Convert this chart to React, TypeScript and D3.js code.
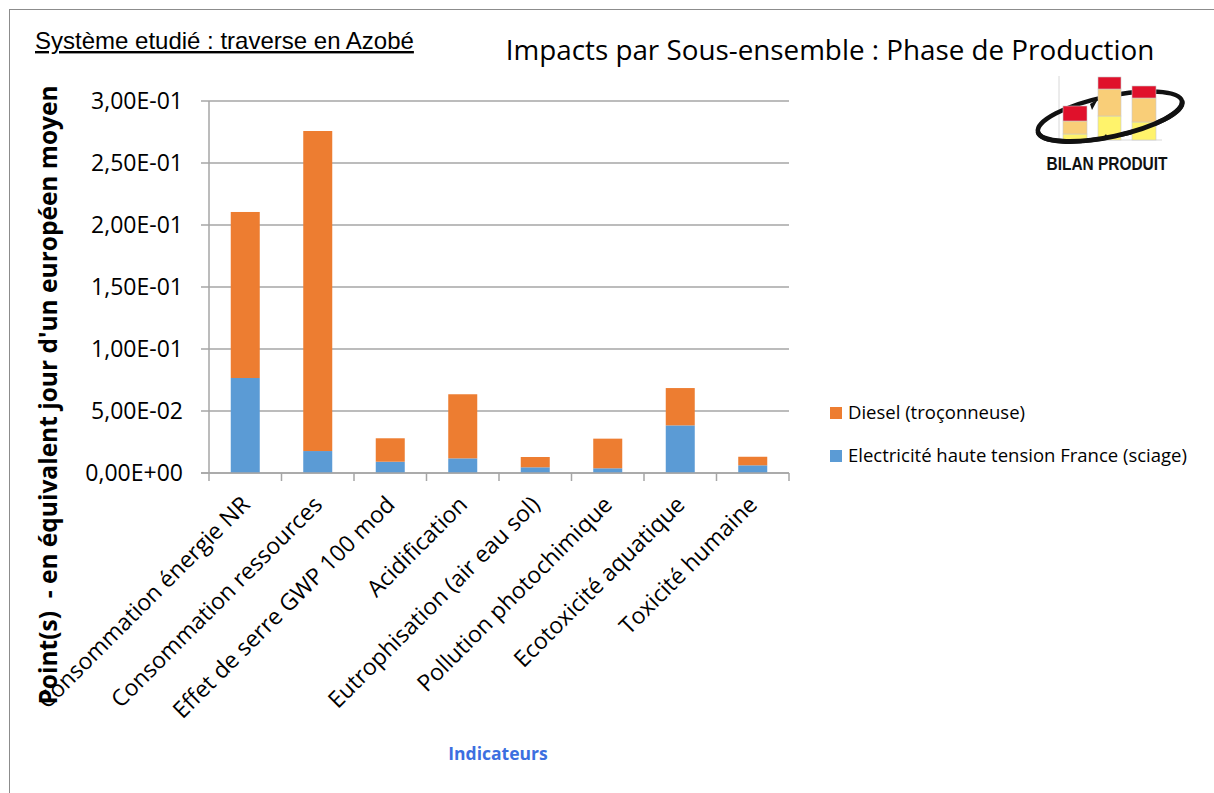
import React from "react";
import * as d3 from "d3";

const categories = [
  "Consommation énergie NR",
  "Consommation ressources",
  "Effet de serre GWP 100 mod",
  "Acidification",
  "Eutrophisation (air eau sol)",
  "Pollution photochimique",
  "Ecotoxicité aquatique",
  "Toxicité humaine",
];
const electricite = [0.0766, 0.0177, 0.0091, 0.0118, 0.0046, 0.0038, 0.0384, 0.0062];
const diesel = [0.1339, 0.2581, 0.0189, 0.0517, 0.0083, 0.0239, 0.0301, 0.0069];
const yTicks = [0, 0.05, 0.1, 0.15, 0.2, 0.25, 0.3];
const seriesKeys = ["electricite", "diesel"];
const seriesNames = ["Electricité haute tension France (sciage)", "Diesel (troçonneuse)"];
const seriesColors = ["#5B9BD5", "#ED7D31"];

const W = 1214;
const H = 793;
const plot = { left: 209, right: 789, top: 101, bottom: 473 };
const FONT = "'Open Sans', 'Noto Sans', sans-serif";

// Excel-style scientific notation: 3,00E-01
function sci(v: number): string {
  if (v === 0) return "0,00E+00";
  const exp = Math.floor(Math.log10(Math.abs(v)) + 1e-9);
  const mant = v / Math.pow(10, exp);
  const sign = exp < 0 ? "-" : "+";
  return `${mant.toFixed(2).replace(".", ",")}E${sign}${String(Math.abs(exp)).padStart(2, "0")}`;
}

function Logo() {
  const base = 140;
  const bars = [
    { x: 1063, w: 24, segs: [140, 134, 121, 106] },
    { x: 1098, w: 23, segs: [140, 116, 89, 77] },
    { x: 1132, w: 24, segs: [140, 122, 98, 86] },
  ];
  const fills = ["#FFF36B", "#F9CE78", "#E0112B"];
  const ell = "M 1038 132 A 73 20 -12 1 1 1182 101 A 73 20 -12 1 1 1038 132 Z";
  return (
    <g>
      <line x1={1059} y1={76} x2={1059} y2={base} stroke="#d8d8d8" />
      <line x1={1059} y1={base} x2={1162} y2={base} stroke="#d8d8d8" />
      <path d={ell} fill="none" stroke="#111" strokeWidth={4.5} />
      {bars.map((b, i) => (
        <g key={i}>
          {fills.map((f, j) => (
            <rect
              key={j}
              x={b.x}
              y={b.segs[j + 1]}
              width={b.w}
              height={b.segs[j] - b.segs[j + 1]}
              fill={f}
              stroke="#c9c9c9"
              strokeWidth={0.6}
            />
          ))}
        </g>
      ))}
      <path d="M 1038 132 A 73 20 -12 0 0 1182 101" fill="none" stroke="#111" strokeWidth={5} />
      <polygon points="1090,104 1098,99 1092,110" fill="#111" />
      <polygon points="1108,138 1100,141 1106,134" fill="#111" />
      <text
        x={1107}
        y={170}
        textAnchor="middle"
        fontFamily="'Liberation Sans', Arial, sans-serif"
        fontWeight="bold"
        fontSize={18}
        textLength={121}
        lengthAdjust="spacingAndGlyphs"
        fill="#111"
      >
        BILAN PRODUIT
      </text>
    </g>
  );
}

export default function App() {
  const rows = categories.map((c, i) => ({ cat: c, electricite: electricite[i], diesel: diesel[i] }));
  const stacked = d3.stack<any>().keys(seriesKeys)(rows);

  const x = d3
    .scaleBand<string>()
    .domain(categories)
    .range([plot.left, plot.right])
    .paddingInner(0.6)
    .paddingOuter(0.3);
  const y = d3.scaleLinear().domain([0, 0.3]).range([plot.bottom, plot.top]);
  const step = x.step();
  const boundaries = d3.range(categories.length + 1).map((i) => plot.left + i * step);

  return (
    <svg
      width={W}
      height={H}
      style={{ position: "absolute", left: 0, top: 0, background: "#fff" }}
    >
      <rect x={0} y={0} width={W} height={H} fill="#fff" />
      <rect x={9.5} y={9.5} width={W + 10} height={H + 10} fill="none" stroke="#8c8c8c" />

      {/* subtitle */}
      <text x={35} y={49} fontFamily="'Liberation Sans', Arial, sans-serif" fontSize={24} fill="#000" textDecoration="underline">
        Système etudié : traverse en Azobé
      </text>

      {/* title */}
      <text x={830} y={60} textAnchor="middle" fontFamily={FONT} fontSize={27.8} fill="#000">
        Impacts par Sous-ensemble : Phase de Production
      </text>

      <Logo />

      {/* gridlines and y ticks */}
      {yTicks.map((t) => (
        <g key={t}>
          <line x1={plot.left - 8} x2={plot.right} y1={y(t)} y2={y(t)} stroke="#A6A6A6" strokeWidth={1.5} />
          <text
            x={183}
            y={y(t)}
            dy="0.35em"
            textAnchor="end"
            fontFamily={FONT}
            fontSize={23}
            fill="#000"
          >
            {sci(t)}
          </text>
        </g>
      ))}

      {/* bars */}
      {stacked.map((s, si) => (
        <g key={s.key} fill={seriesColors[si]}>
          {s.map((d, i) => (
            <rect
              key={i}
              x={x(categories[i])}
              y={y(d[1])}
              width={x.bandwidth()}
              height={y(d[0]) - y(d[1])}
            />
          ))}
        </g>
      ))}

      {/* axes */}
      <line x1={plot.left} x2={plot.left} y1={plot.top} y2={plot.bottom} stroke="#A6A6A6" strokeWidth={1.5} />
      <line x1={plot.left - 8} x2={plot.right} y1={plot.bottom} y2={plot.bottom} stroke="#A6A6A6" strokeWidth={1.5} />
      {boundaries.map((bx, i) => (
        <line key={i} x1={bx} x2={bx} y1={plot.bottom} y2={plot.bottom + 8} stroke="#A6A6A6" strokeWidth={1.5} />
      ))}

      {/* category labels */}
      {categories.map((c) => {
        const cx = (x(c) as number) + x.bandwidth() / 2;
        return (
          <text
            key={c}
            transform={`translate(${cx + 6},${plot.bottom + 33}) rotate(-45)`}
            textAnchor="end"
            fontFamily={FONT}
            fontSize={23}
            fill="#000"
          >
            {c}
          </text>
        );
      })}

      {/* y axis title */}
      <text
        transform={`translate(57,395) rotate(-90)`}
        textAnchor="middle"
        fontFamily={FONT}
        fontWeight="bold"
        fontSize={24.5}
        fill="#000"
        style={{ whiteSpace: "pre" }}
      >
        {"Point(s)  - en équivalent jour d'un européen moyen"}
      </text>

      {/* x axis title */}
      <text x={498} y={760} textAnchor="middle" fontFamily={FONT} fontWeight="bold" fontSize={17.5} fill="#3C6FE0">
        Indicateurs
      </text>

      {/* legend, top to bottom: Diesel then Electricité */}
      {[1, 0].map((si, k) => (
        <g key={si} transform={`translate(830,${413 + k * 43})`}>
          <rect x={0} y={-6} width={12} height={12} fill={seriesColors[si]} />
          <text x={18} y={0} dy="0.35em" fontFamily={FONT} fontSize={18.5} fill="#000">
            {seriesNames[si]}
          </text>
        </g>
      ))}
    </svg>
  );
}
